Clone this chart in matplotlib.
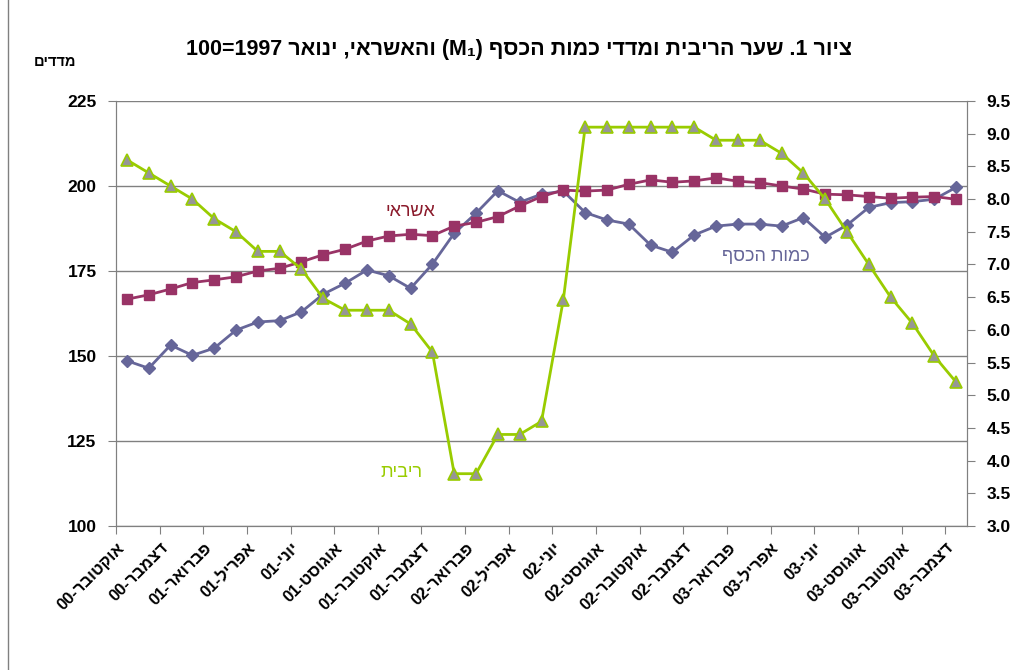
import matplotlib.pyplot as plt
from matplotlib.lines import Line2D
import matplotlib.transforms as mtransforms
import numpy as np

plt.rcParams['font.family'] = ['Liberation Sans', 'DejaVu Sans']

# monthly data, Oct-00 .. Dec-03 (39 months)
credit = [166.7, 168.0, 169.7, 171.6, 172.4, 173.3, 175.0, 175.8, 177.7, 179.8,
          181.4, 183.8, 185.3, 185.8, 185.4, 188.2, 189.3, 191.0, 194.1, 196.9,
          198.8, 198.5, 198.8, 200.5, 201.8, 201.1, 201.5, 202.4, 201.4, 201.0,
          200.0, 199.1, 197.6, 197.4, 196.9, 196.4, 196.7, 196.9, 196.1]
money = [148.6, 146.4, 153.2, 150.2, 152.3, 157.6, 160.0, 160.4, 163.0, 168.2,
         171.4, 175.3, 173.6, 169.9, 177.0, 186.1, 192.0, 198.6, 195.2, 197.6,
         198.5, 192.2, 190.0, 188.8, 182.6, 180.5, 185.6, 188.2, 188.8, 188.8,
         188.2, 190.7, 184.9, 188.5, 193.7, 195.1, 195.4, 196.1, 199.6]
rate = [8.6, 8.4, 8.2, 8.0, 7.7, 7.5, 7.2, 7.2, 6.93, 6.48,
        6.3, 6.3, 6.3, 6.09, 5.66, 3.8, 3.8, 4.4, 4.4, 4.6,
        6.46, 9.1, 9.1, 9.1, 9.1, 9.1, 9.1, 8.9, 8.9, 8.9,
        8.7, 8.4, 8.0, 7.5, 7.0, 6.5, 6.1, 5.6, 5.2]

tick_labels = ["אוקטובר-00", "דצמבר-00", "פברואר-01", "אפריל-01", "יוני-01",
               "אוגוסט-01", "אוקטובר-01", "דצמבר-01", "פברואר-02", "אפריל-02",
               "יוני-02", "אוגוסט-02", "אוקטובר-02", "דצמבר-02", "פברואר-03",
               "אפריל-03", "יוני-03", "אוגוסט-03", "אוקטובר-03", "דצמבר-03"]


def rtl(s):
    # matplotlib has no bidi support, so hand it the visual order
    return s[::-1]


def rtl_label(s):
    name, yr = s.split('-')
    return yr + '-' + rtl(name)


title = ("100=1997 " + rtl("ינואר") + " ," + rtl("והאשראי") + " (M\u2081) "
         + rtl("שער הריבית ומדדי כמות הכסף") + " .1 " + rtl("ציור"))

c_credit = '#993366'
c_money = '#666699'
c_rate = '#99CC00'
c_grid = '#808080'

x = np.arange(len(credit))

fig = plt.figure(figsize=(10.13, 6.70), dpi=100)
ax = fig.add_axes([116/1013, 1 - 526/670, (967-116)/1013, (526-101)/670])
ax2 = ax.twinx()

ax.plot(x, money, color=c_money, lw=2, marker='D', ms=6.5, mfc=c_money, mec=c_money, zorder=3)
ax.plot(x, credit, color=c_credit, lw=2, marker='s', ms=7.5, mfc=c_credit, mec=c_credit, zorder=4)
ax2.plot(x, rate, color=c_rate, lw=2, marker='^', ms=9, mfc='#969696', mec=c_rate, mew=1.2)

ax.set_xlim(-0.5, len(x) - 0.5)
ax.set_ylim(100, 225)
ax.set_yticks(np.arange(100, 226, 25))
ax2.set_ylim(3.0, 9.5)
ax2.set_yticks(np.arange(3.0, 9.51, 0.5))
ax2.set_yticklabels(['%.1f' % v for v in np.arange(3.0, 9.51, 0.5)])

ax.yaxis.grid(True, color=c_grid, lw=1)
ax.set_axisbelow(True)

# category boundaries every two months, labels on every other month
ax.set_xticks(np.arange(-0.5, len(x) - 1, 2))
ax.set_xticklabels([])
ax.set_xticks(np.arange(0, len(x), 2), minor=True)
ax.set_xticklabels([rtl_label(s) for s in tick_labels], minor=True)
ax.tick_params(axis='x', which='major', length=6, color=c_grid, direction='out')
ax.tick_params(axis='x', which='minor', length=0, pad=14, labelsize=12)
shift = mtransforms.ScaledTranslation(-5/100, 0, fig.dpi_scale_trans)
for lab in ax.get_xticklabels(minor=True):
    lab.set_rotation(45)
    lab.set_ha('right')
    lab.set_va('center')
    lab.set_rotation_mode('anchor')
    lab.set_fontweight('bold')
    lab.set_transform(lab.get_transform() + shift)

ax.tick_params(axis='y', length=6, color=c_grid, labelsize=12.5, pad=8)
ax2.tick_params(axis='y', length=6, color=c_grid, labelsize=12.5, pad=8)
for lab in ax.get_yticklabels() + ax2.get_yticklabels():
    lab.set_fontweight('bold')

for a in (ax, ax2):
    a.spines['top'].set_visible(False)
    for s in ('left', 'right', 'bottom'):
        a.spines[s].set_color(c_grid)

ax.text(13.0, 192.4, rtl("אשראי"), color='#8B1A2B', fontsize=13, ha='center', va='center')
ax.text(29.3, 179.4, rtl("כמות הכסף"), color=c_money, fontsize=13, ha='center', va='center')
ax.text(12.6, 115.6, rtl("ריבית"), color=c_rate, fontsize=13, ha='center', va='center')

fig.text(519/1013, 1 - 49/670, title, fontsize=15.5, fontweight='bold', ha='center', va='center')
fig.text(55/1013, 1 - 62/670, rtl("מדדים"), fontsize=10.5, fontweight='bold', ha='center', va='center')

fig.add_artist(Line2D([8/1013, 8/1013], [0, 1], color=c_grid, lw=1))

fig.savefig('out.png', dpi=100)
